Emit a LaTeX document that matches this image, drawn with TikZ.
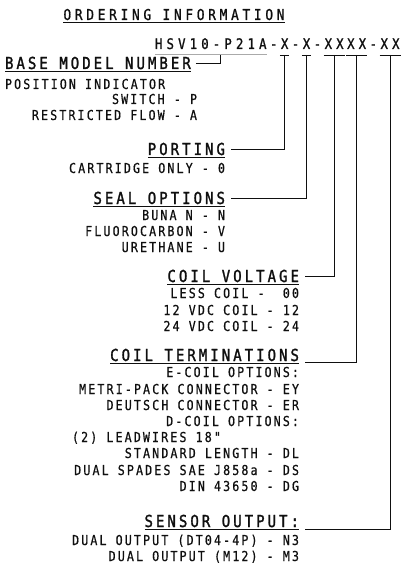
\documentclass[tikz,border=0pt]{standalone}
\usepackage{fontspec}
\usepackage{xcolor}
\usetikzlibrary{positioning}
\newfontfamily\bodyfont[FakeStretch=0.85,LetterSpace=15.5,FakeBold=0.6]{DejaVu Sans Mono}
\newfontfamily\headfont[FakeStretch=0.85,LetterSpace=18.3,FakeBold=1.6]{DejaVu Sans Mono}
\newfontfamily\partfont[FakeStretch=0.85,LetterSpace=28.6,FakeBold=1.2]{DejaVu Sans Mono}
\newfontfamily\titlefont[FakeStretch=0.85,LetterSpace=25,FakeBold=1.2]{DejaVu Sans Mono}
\definecolor{ordgray}{RGB}{170,170,170}
\definecolor{ordink}{RGB}{15,15,15}

\begin{document}
\begin{tikzpicture}[x=1pt,y=-1pt,
  every node/.style={inner sep=0pt,outer sep=0pt,text=ordink},
  bodytxt/.style={font={\bodyfont\fontsize{13.7}{14}\selectfont}},
  headtxt/.style={font={\headfont\fontsize{16.5}{17}\selectfont}},
  parttxt/.style={font={\partfont\fontsize{14.5}{15}\selectfont}},
  titletxt/.style={font={\titlefont\fontsize{15}{16}\selectfont}},
  conn/.style={ordink,line width=0.9pt},
  uline/.style={ordink,line width=1.3pt}]
\useasboundingbox (0,0) rectangle (406,572);
% title and part number
\node[titletxt,anchor=base] (title) at (174,20) {ORDERING INFORMATION};
\node[parttxt,anchor=base west] (pnbase) at (155,49) {HSV10-P21A};
\node[parttxt,base right=3.5pt of pnbase] (pnd1) {-};
\node[parttxt,base right=3.5pt of pnd1] (pnport) {X};
\node[parttxt,base right=3.5pt of pnport] (pnd2) {-};
\node[parttxt,base right=3.5pt of pnd2] (pnseal) {X};
\node[parttxt,base right=3.5pt of pnseal] (pnd3) {-};
\node[parttxt,base right=3.5pt of pnd3] (pnvolt) {XX};
\node[parttxt,base right=3.5pt of pnvolt] (pnterm) {XX};
\node[parttxt,base right=3.5pt of pnterm] (pnd4) {-};
\node[parttxt,base right=3.5pt of pnd4] (pnsens) {XX};
% base model
\node[headtxt,anchor=base west] (base) at (5,69) {BASE MODEL NUMBER};
\node[bodytxt,anchor=base west] (posind) at (5,89) {POSITION INDICATOR};
\node[bodytxt,anchor=base east] (switch) at (197,104) {SWITCH - P};
\node[bodytxt,anchor=base east] (restr) at (197,120) {RESTRICTED FLOW - A};
% porting
\node[headtxt,anchor=base east] (porting) at (225,155) {PORTING};
\node[bodytxt,anchor=base east] (cart) at (225,173) {CARTRIDGE ONLY - 0};
% seals
\node[headtxt,anchor=base east] (seal) at (225,204) {SEAL OPTIONS};
\node[bodytxt,anchor=base east] (buna) at (225,220) {BUNA N - N};
\node[bodytxt,anchor=base east] (fluoro) at (225,236) {FLUOROCARBON - V};
\node[bodytxt,anchor=base east] (ureth) at (225,252) {URETHANE - U};
% coil voltage
\node[headtxt,anchor=base east] (volt) at (299,282) {COIL VOLTAGE};
\node[bodytxt,anchor=base east] (less) at (299,298) {LESS COIL -\ \ 00};
\node[bodytxt,anchor=base east] (v12) at (299,315) {12 VDC COIL - 12};
\node[bodytxt,anchor=base east] (v24) at (299,331) {24 VDC COIL - 24};
% coil terminations
\node[headtxt,anchor=base east] (term) at (299,361) {COIL TERMINATIONS};
\node[bodytxt,anchor=base east] (ecoil) at (299,377) {E-COIL OPTIONS:};
\node[bodytxt,anchor=base east] (metri) at (299,394) {METRI-PACK CONNECTOR - EY};
\node[bodytxt,anchor=base east] (deut) at (299,410) {DEUTSCH CONNECTOR - ER};
\node[bodytxt,anchor=base east] (dcoil) at (299,426) {D-COIL OPTIONS:};
\node[bodytxt,anchor=base west] (lead) at (72,442) {(2) LEADWIRES 18"};
\node[bodytxt,anchor=base east] (stdlen) at (299,458) {STANDARD LENGTH - DL};
\node[bodytxt,anchor=base east] (spade) at (299,475) {DUAL SPADES SAE J858a - DS};
\node[bodytxt,anchor=base east] (din) at (299,491) {DIN 43650 - DG};
% sensor output
\node[headtxt,anchor=base east] (sensor) at (299,527) {SENSOR OUTPUT:};
\node[bodytxt,anchor=base east] (dt04) at (299,545) {DUAL OUTPUT (DT04-4P) - N3};
\node[bodytxt,anchor=base east] (m12) at (299,561) {DUAL OUTPUT (M12) - M3};
% underlines
\foreach \n in {title,base,porting,seal,volt,term,sensor}
  \draw[uline] ([yshift=-2.5pt]\n.south west) -- ([yshift=-2.5pt]\n.south east);
\draw[ordgray,line width=1.5pt] ([yshift=-5.5pt]pnbase.south west) -- ([yshift=-5.5pt]pnbase.south east);
\foreach \n in {pnport,pnseal,pnvolt,pnterm,pnsens}
  \draw[conn] ([xshift=-1pt,yshift=-6pt]\n.south west) -- ([xshift=1pt,yshift=-6pt]\n.south east);
% leaders
\draw[conn] ([xshift=5pt]base.east) -| ([xshift=10pt,yshift=-5.5pt]pnbase.south);
\draw[conn] ([yshift=-6pt]pnport.south) |- ([xshift=6pt]porting.east);
\draw[conn] ([yshift=-6pt]pnseal.south) |- ([xshift=6pt]seal.east);
\draw[conn] ([yshift=-6pt]pnvolt.south) |- ([xshift=6pt]volt.east);
\draw[conn] ([yshift=-6pt]pnterm.south) |- ([xshift=6pt,yshift=-1.5pt]term.south east);
\draw[conn] ([yshift=-6pt]pnsens.south) |- ([xshift=6pt,yshift=-2.5pt]sensor.south east);
\end{tikzpicture}
\end{document}
